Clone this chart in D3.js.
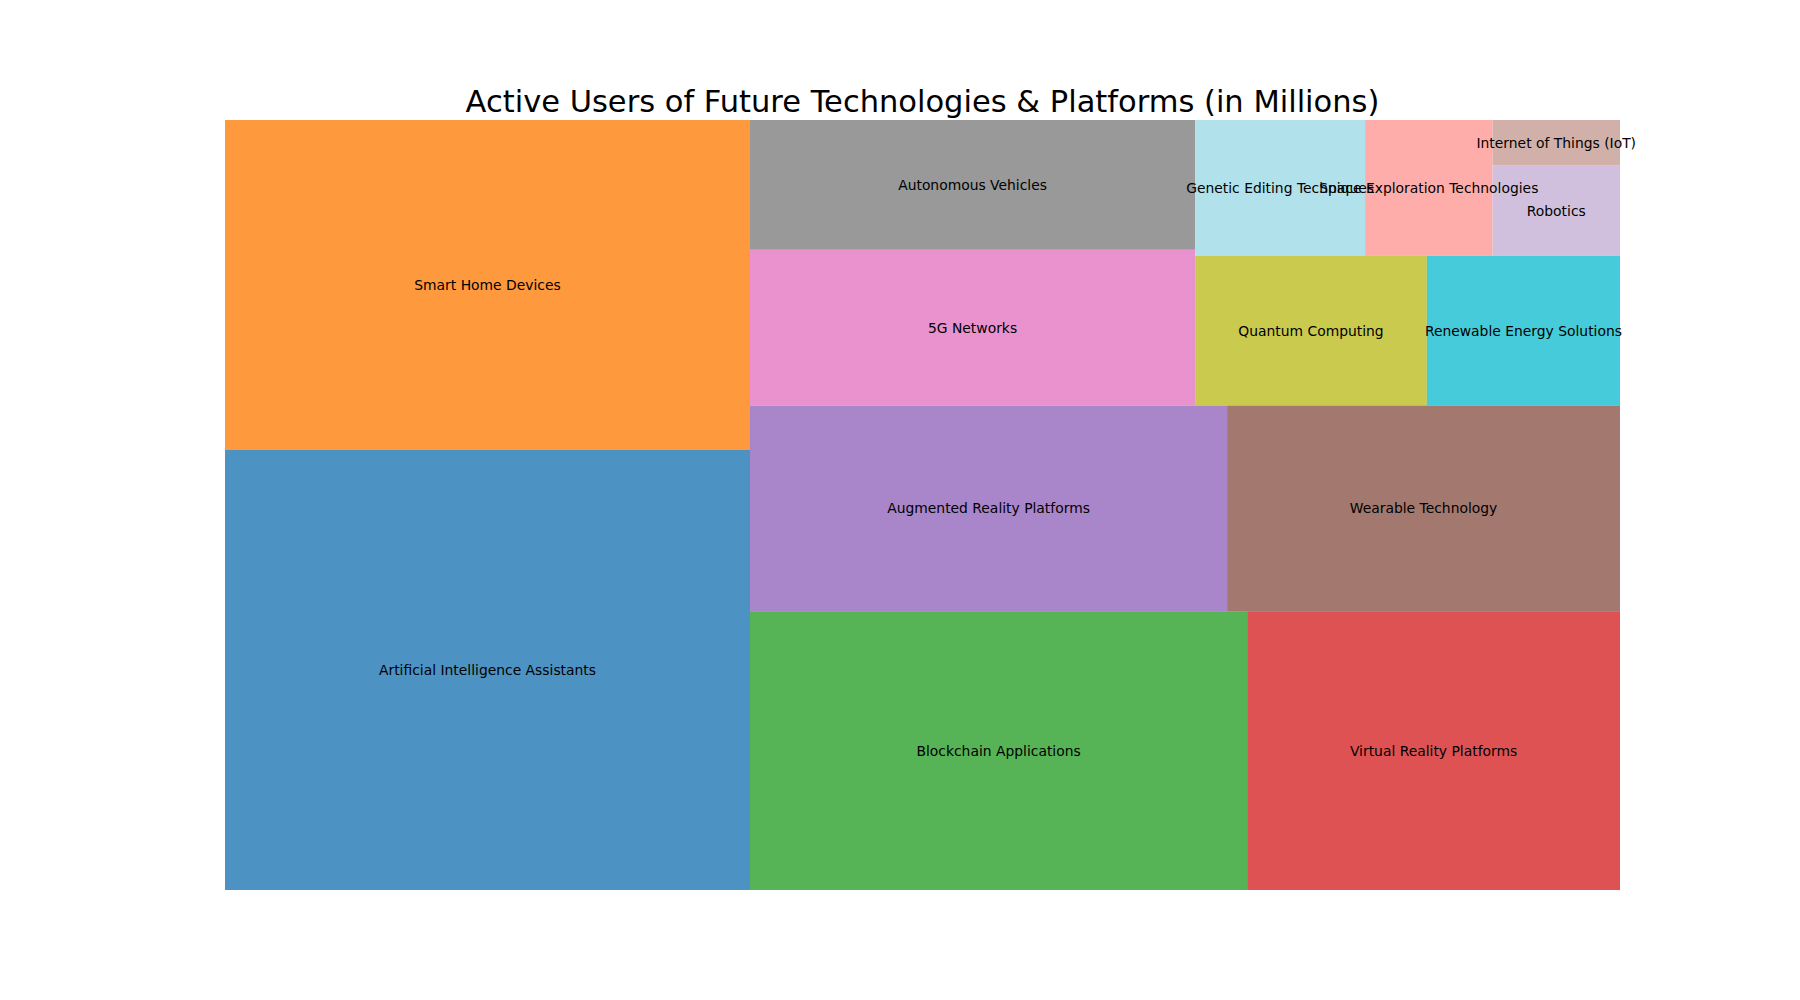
<!DOCTYPE html>
<html>
<head>
<meta charset="utf-8">
<script src="https://cdn.jsdelivr.net/npm/d3@7"></script>
<style>
  html, body { margin: 0; padding: 0; background: #fff; }
  svg { display: block; }
</style>
</head>
<body>
<svg id="chart" width="1800" height="1000"></svg>
<script>
const categories = [
  "Artificial Intelligence Assistants",
  "Smart Home Devices",
  "Blockchain Applications",
  "Virtual Reality Platforms",
  "Augmented Reality Platforms",
  "Wearable Technology",
  "5G Networks",
  "Autonomous Vehicles",
  "Quantum Computing",
  "Renewable Energy Solutions",
  "Genetic Editing Techniques",
  "Space Exploration Technologies",
  "Robotics",
  "Internet of Things (IoT)"
];
const users = [800, 600, 480, 360, 340, 280, 240, 200, 120, 100, 80, 60, 40, 20];
const colors = [
  "#1f77b4", "#ff7f0e", "#2ca02c", "#d62728", "#9467bd", "#8c564b", "#e377c2",
  "#7f7f7f", "#bcbd22", "#17becf", "#9edae5", "#ff9896", "#c5b0d5", "#c49c94"
];
const titleText = "Active Users of Future Technologies & Platforms (in Millions)";

// squarify algorithm (as in the Python "squarify" package), in 0..100 data space
function layoutrow(sizes, x, y, dx, dy) {
  const covered = d3.sum(sizes), width = covered / dy;
  return sizes.map(s => { const r = {x, y, dx: width, dy: s / width}; y += s / width; return r; });
}
function layoutcol(sizes, x, y, dx, dy) {
  const covered = d3.sum(sizes), height = covered / dx;
  return sizes.map(s => { const r = {x, y, dx: s / height, dy: height}; x += s / height; return r; });
}
function layout(sizes, x, y, dx, dy) {
  return dx >= dy ? layoutrow(sizes, x, y, dx, dy) : layoutcol(sizes, x, y, dx, dy);
}
function leftover(sizes, x, y, dx, dy) {
  const covered = d3.sum(sizes);
  if (dx >= dy) { const w = covered / dy; return [x + w, y, dx - w, dy]; }
  const h = covered / dx; return [x, y + h, dx, dy - h];
}
function worst(sizes, x, y, dx, dy) {
  return d3.max(layout(sizes, x, y, dx, dy), r => Math.max(r.dx / r.dy, r.dy / r.dx));
}
function squarify(sizes, x, y, dx, dy) {
  if (sizes.length === 0) return [];
  if (sizes.length === 1) return layout(sizes, x, y, dx, dy);
  let i = 1;
  while (i < sizes.length && worst(sizes.slice(0, i), x, y, dx, dy) >= worst(sizes.slice(0, i + 1), x, y, dx, dy)) i++;
  const cur = sizes.slice(0, i), rem = sizes.slice(i);
  const [lx, ly, ldx, ldy] = leftover(cur, x, y, dx, dy);
  return layout(cur, x, y, dx, dy).concat(squarify(rem, lx, ly, ldx, ldy));
}

const W = 100, H = 100;
const total = d3.sum(users);
const norm = users.map(v => v * W * H / total);
const rects = squarify(norm, 0, 0, W, H);

const svg = d3.select("#chart");
const xScale = d3.scaleLinear().domain([0, W]).range([225, 1620]);
const yScale = d3.scaleLinear().domain([0, H]).range([890, 120]);

const g = svg.append("g");
g.selectAll("rect").data(rects).join("rect")
  .attr("x", d => xScale(d.x))
  .attr("y", d => yScale(d.y + d.dy))
  .attr("width", d => xScale(d.x + d.dx) - xScale(d.x))
  .attr("height", d => yScale(d.y) - yScale(d.y + d.dy))
  .attr("fill", (d, i) => colors[i])
  .attr("fill-opacity", 0.8);

g.selectAll("text.lbl").data(rects).join("text")
  .attr("class", "lbl")
  .attr("x", d => xScale(d.x + d.dx / 2))
  .attr("y", d => yScale(d.y + d.dy / 2))
  .attr("text-anchor", "middle")
  .attr("dominant-baseline", "central")
  .attr("font-family", "DejaVu Sans, sans-serif")
  .attr("font-size", "13.89px")
  .attr("fill", "#000")
  .text((d, i) => categories[i]);

svg.append("text")
  .attr("x", (225 + 1620) / 2)
  .attr("y", 111.7)
  .attr("text-anchor", "middle")
  .attr("font-family", "DejaVu Sans, sans-serif")
  .attr("font-size", "30.5px")
  .attr("fill", "#000")
  .text(titleText);
</script>
</body>
</html>
